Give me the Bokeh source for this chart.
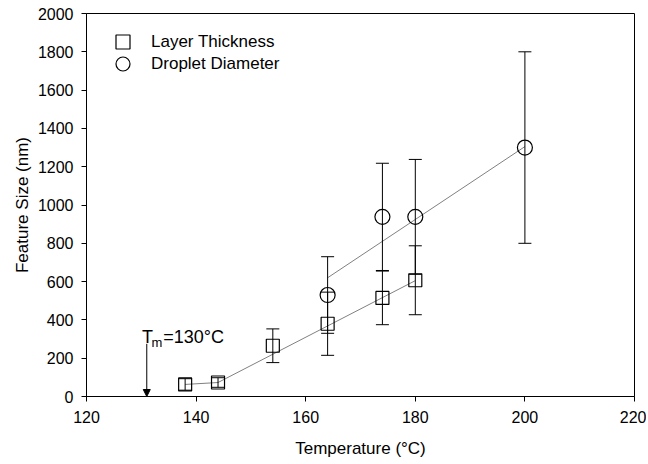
from bokeh.plotting import figure
from bokeh.models import (ColumnDataSource, Whisker, TeeHead, Arrow, NormalHead,
                          Legend, LegendItem, FixedTicker, Range1d)
from bokeh.core.properties import value
from bokeh.embed import file_html
from bokeh.resources import INLINE

# ---- data ----
layer_temp = [138, 144, 154, 164, 174, 180]
layer_size = [63, 73, 265, 380, 515, 607]
layer_err = [30, 25, 88, 165, 140, 180]

drop_temp = [164, 174, 180, 200]
drop_size = [530, 938, 938, 1300]
drop_err = [200, 280, 300, 500]

layer_fit_x = [138, 144, 180]
layer_fit_y = [63, 73, 605]
drop_fit_x = [164, 200]
drop_fit_y = [620, 1305]

tm_x = [131]
tm_top = [275]
tm_bottom = [0]

x_ticks = [120, 140, 160, 180, 200, 220]
y_ticks = [0, 200, 400, 600, 800, 1000, 1200, 1400, 1600, 1800, 2000]

FONT = "Liberation Sans"

layer_src = ColumnDataSource(dict(
    x=layer_temp, y=layer_size,
    lo=[v - e for v, e in zip(layer_size, layer_err)],
    hi=[v + e for v, e in zip(layer_size, layer_err)]))
drop_src = ColumnDataSource(dict(
    x=drop_temp, y=drop_size,
    lo=[v - e for v, e in zip(drop_size, drop_err)],
    hi=[v + e for v, e in zip(drop_size, drop_err)]))

p = figure(width=646, height=462, output_backend="svg", toolbar_location=None,
           x_range=Range1d(120, 220), y_range=Range1d(0, 2000),
           min_border_left=86, min_border_right=12, min_border_top=13,
           min_border_bottom=66)
p.background_fill_color = "white"
p.border_fill_color = "white"
p.outline_line_color = "black"
p.outline_line_width = 1
p.grid.visible = False

for ax in (p.xaxis[0], p.yaxis[0]):
    ax.axis_line_color = "black"
    ax.major_tick_line_color = "black"
    ax.major_tick_out = 5
    ax.major_tick_in = 0
    ax.minor_tick_line_color = None
    ax.major_label_text_font = FONT
    ax.major_label_text_font_size = "16px"
    ax.major_label_text_color = "black"
    ax.axis_label_text_font = FONT
    ax.axis_label_text_font_size = "17px"
    ax.axis_label_text_font_style = "normal"
    ax.axis_label_text_color = "black"

p.xaxis.ticker = FixedTicker(ticks=x_ticks)
p.yaxis.ticker = FixedTicker(ticks=y_ticks)
p.xaxis.axis_label = "Temperature (°C)"
p.yaxis.axis_label = "Feature Size (nm)"
p.xaxis.major_label_standoff = 9
p.yaxis.major_label_standoff = 8
p.xaxis.axis_label_standoff = 13
p.yaxis.axis_label_standoff = 3

# fit / connecting lines
p.line(layer_fit_x, layer_fit_y, line_color="#808080", line_width=1)
p.line(drop_fit_x, drop_fit_y, line_color="#808080", line_width=1)

# error bars
for src in (layer_src, drop_src):
    w = Whisker(source=src, base="x", upper="hi", lower="lo", dimension="height",
                line_color="black", line_width=1, level="glyph",
                upper_head=TeeHead(size=13, line_color="black", line_width=1),
                lower_head=TeeHead(size=13, line_color="black", line_width=1))
    p.add_layout(w)

r_sq = p.scatter("x", "y", source=layer_src, marker="square", size=13,
                 fill_color=None, line_color="black", line_width=1.2)
r_ci = p.scatter("x", "y", source=drop_src, marker="circle", size=15,
                 fill_color=None, line_color="black", line_width=1.2)

# melting temperature arrow and label
p.add_layout(Arrow(x_start=tm_x[0], y_start=tm_top[0], x_end=tm_x[0], y_end=tm_bottom[0],
                   line_color="black", line_width=1,
                   end=NormalHead(size=7, fill_color="black", line_color="black")))
p.text(x=[130.15], y=[310], text=["T"], text_font=value(FONT), text_font_size="18px",
       text_color="black", text_baseline="alphabetic", text_align="left")
p.text(x=[131.85], y=[283], text=["m"], text_font=value(FONT), text_font_size="13px",
       text_color="black", text_baseline="alphabetic", text_align="left")
p.text(x=[134.0], y=[310], text=["=130°C"], text_font=value(FONT), text_font_size="18px",
       text_color="black", text_baseline="alphabetic", text_align="left")

common = dict(padding=0, margin=0, glyph_width=35, glyph_height=35, label_height=35,
              label_standoff=11, border_line_color=None, background_fill_alpha=0,
              label_text_font=FONT, label_text_font_size="17px",
              label_text_color="black")
legend1 = Legend(items=[LegendItem(label="Layer Thickness", renderers=[r_sq])],
                 location=(19, 337), **common)
legend2 = Legend(items=[LegendItem(label="Droplet Diameter", renderers=[r_ci])],
                 location=(19, 315), **common)
p.add_layout(legend1)
p.add_layout(legend2)

open("out.html", "w").write(file_html(p, INLINE))
